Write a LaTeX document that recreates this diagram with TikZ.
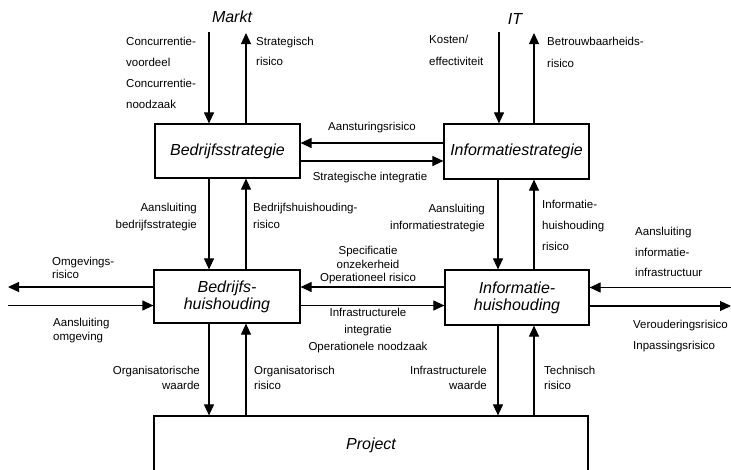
\documentclass[tikz,border=0pt]{standalone}
\usepackage{fontspec}
\setmainfont{Liberation Sans}
\usetikzlibrary{arrows.meta}
\tikzset{
  box/.style={draw, line width=1.2pt, inner sep=0pt, font=\fontsize{16}{18}\selectfont\itshape},
  title/.style={font=\fontsize{16}{18}\selectfont\itshape, inner sep=0pt},
  arr/.style={line width=1.1pt, -{Triangle[width=10pt,length=11pt]}},
  lbl/.style={inner sep=0pt, font=\fontsize{11.5}{#1}\selectfont},
  lbl/.default=14,
}
\begin{document}
\begin{tikzpicture}[x=1pt,y=-1pt]
\clip (0,0) rectangle (731,469);
\fill[white] (0,0) rectangle (731,469);
% boxes
\node[box, minimum width=145pt, minimum height=54pt] (bs) at (227.5,151) {Bedrijfsstrategie};
\node[box, minimum width=145pt, minimum height=55pt] (is) at (516.5,151.5) {Informatiestrategie};
\node[box, minimum width=146pt, minimum height=53pt, align=center] (bh) at (227,296.5) {Bedrijfs-\\[-1pt]huishouding};
\node[box, minimum width=144pt, minimum height=55pt, align=center] (ih) at (517,297.5) {Informatie-\\[-1pt]huishouding};
\node[box, minimum width=434pt, minimum height=58pt] (proj) at (371,445) {Project};
% titles
\node[title] (markt) at (232,17) {Markt};
\node[title] (it) at (515,19) {IT};
% free ends
\coordinate (mIn) at (209,32);
\coordinate (mOut) at (246,33);
\coordinate (iIn) at (499,32);
\coordinate (iOut) at (534,33);
\coordinate (yA) at (0,143);
\coordinate (yS) at (0,161);
\coordinate (yH1) at (0,287);
\coordinate (yH2) at (0,305.5);
\coordinate (lOut) at (8,287);
\coordinate (lIn) at (8,305.5);
\coordinate (rIn) at (731,287.5);
\coordinate (rOut) at (731,306);
\coordinate (xB1) at (209,0);
\coordinate (xB2) at (246,0);
\coordinate (xI1) at (498,0);
\coordinate (xI2) at (534,0);
% top arrows
\draw[arr] (mIn) -- (mIn |- bs.north);
\draw[arr] (mOut |- bs.north) -- (mOut);
\draw[arr] (iIn) -- (iIn |- is.north);
\draw[arr] (iOut |- is.north) -- (iOut);
% strategy row
\draw[arr] (is.west |- yA) -- (bs.east |- yA);
\draw[arr] (bs.east |- yS) -- (is.west |- yS);
% strategy to huishouding
\draw[arr] (bs.south -| xB1) -- (bh.north -| xB1);
\draw[arr] (bh.north -| xB2) -- (bs.south -| xB2);
\draw[arr] (is.south -| xI1) -- (ih.north -| xI1);
\draw[arr] (ih.north -| xI2) -- (is.south -| xI2);
% huishouding row
\draw[arr] (ih.west |- yH1) -- (bh.east |- yH1);
\draw[arr] (bh.east |- yH2) -- (ih.west |- yH2);
\draw[arr] (bh.west |- lOut) -- (lOut);
\draw[arr] (lIn) -- (bh.west |- lIn);
\draw[arr] (rIn) -- (ih.east |- rIn);
\draw[arr] (ih.east |- rOut) -- (rOut);
% to project
\draw[arr] (bh.south -| xB1) -- (proj.north -| xB1);
\draw[arr] (proj.north -| xB2) -- (bh.south -| xB2);
\draw[arr] (ih.south -| xI1) -- (proj.north -| xI1);
\draw[arr] (proj.north -| xI2) -- (ih.south -| xI2);
% labels
\node[lbl=21, align=left, anchor=north west] (l1) at (126,37) {Concurrentie-\\voordeel\\Concurrentie-\\noodzaak};
\node[lbl=20, align=left, anchor=north west] (l2) at (256,37) {Strategisch\\risico};
\node[lbl=22, align=left, anchor=north west] (l3) at (429,35) {Kosten/\\effectiviteit};
\node[lbl=22, align=left, anchor=north west] (l4) at (547,37) {Betrouwbaarheids-\\risico};
\node[lbl] (l5) at (372,128) {Aansturingsrisico};
\node[lbl] (l6) at (370,178) {Strategische integratie};
\node[lbl=17, align=right, anchor=north east] (l7) at (197,203) {Aansluiting\\bedrijfsstrategie};
\node[lbl=17, align=left, anchor=north west] (l8) at (253,203) {Bedrijfshuishouding-\\risico};
\node[lbl=17, align=right, anchor=north east] (l9) at (485,204) {Aansluiting\\informatiestrategie};
\node[lbl=21, align=left, anchor=north west] (l10) at (542,200) {Informatie-\\huishouding\\risico};
\node[lbl=13.5, align=center, anchor=north] (l11) at (368,246) {Specificatie\\onzekerheid\\Operationeel risico};
\node[lbl=17, align=center, anchor=north] (l12) at (368,308) {Infrastructurele\\integratie\\Operationele noodzaak};
\node[lbl=13, align=left, anchor=north west] (l13) at (52,257) {Omgevings-\\risico};
\node[lbl=14, align=left, anchor=north west] (l14) at (53,318) {Aansluiting\\omgeving};
\node[lbl=20.5, align=left, anchor=north west] (l15) at (635,227) {Aansluiting\\informatie-\\infrastructuur};
\node[lbl=21, align=left, anchor=north west] (l16) at (633,320) {Verouderingsrisico\\Inpassingsrisico};
\node[lbl=15, align=right, anchor=north east] (l17) at (200,366) {Organisatorische\\waarde};
\node[lbl=15, align=left, anchor=north west] (l18) at (254,366) {Organisatorisch\\risico};
\node[lbl=15, align=right, anchor=north east] (l19) at (487,366) {Infrastructurele\\waarde};
\node[lbl=15, align=left, anchor=north west] (l20) at (544,366) {Technisch\\risico};
\end{tikzpicture}
\end{document}
